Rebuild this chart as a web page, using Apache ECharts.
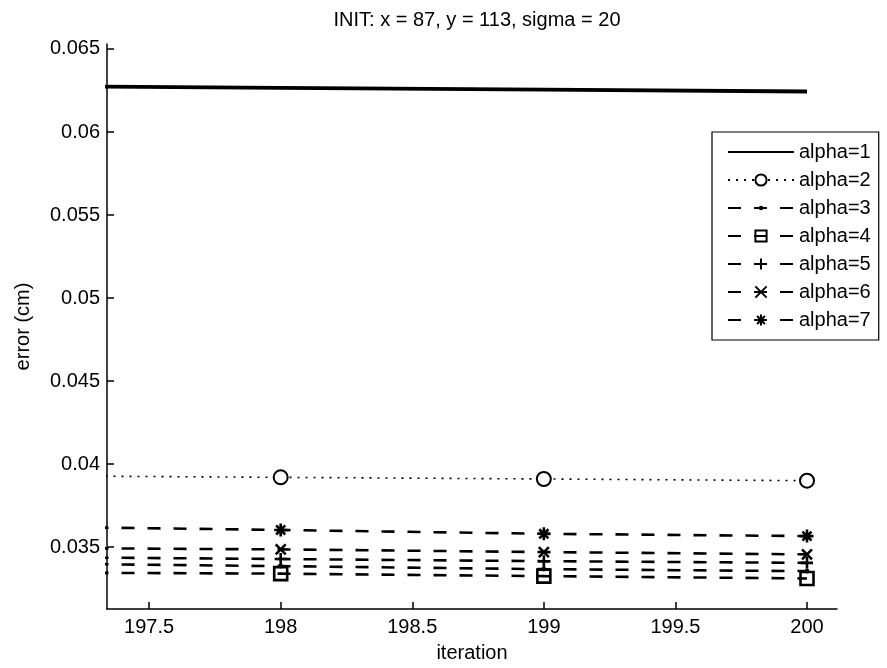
<!DOCTYPE html>
<html>
<head>
<meta charset="utf-8">
<script src="https://cdn.jsdelivr.net/npm/echarts@6/dist/echarts.min.js"></script>
<style>html,body{margin:0;padding:0;background:#fff}#c{width:887px;height:668px}</style>
</head>
<body>
<div id="c"></div>
<script>
const titleText = 'INIT: x = 87, y = 113, sigma = 20';
const iterations = [197, 198, 199, 200];
const seriesNames = ['alpha=1', 'alpha=2', 'alpha=3', 'alpha=4', 'alpha=5', 'alpha=6', 'alpha=7'];
const alpha1 = [0.06276, 0.06266, 0.06255, 0.06244];
const alpha2 = [0.0393, 0.0392, 0.0391, 0.0390];
const alpha3 = [0.03402, 0.03385, 0.03367, 0.03355];
const alpha4 = [0.03347, 0.03340, 0.03325, 0.03311];
const alpha5 = [0.03440, 0.03428, 0.03415, 0.03405];
const alpha6 = [0.03495, 0.03486, 0.03470, 0.03456];
const alpha7 = [0.03624, 0.03603, 0.03580, 0.03566];
const xTicks = [197.5, 198, 198.5, 199, 199.5, 200];
const yTicks = [0.035, 0.04, 0.045, 0.05, 0.055, 0.06, 0.065];
const xRange = [197.34, 200.114];
const yRange = [0.03127, 0.0653];

const allValues = [alpha1, alpha2, alpha3, alpha4, alpha5, alpha6, alpha7];
const FONT = 'Liberation Sans, Arial, Helvetica, sans-serif';
const P = {
  hline: 'path://M0,0M10,10M0,5L10,5',
  dot: 'path://M0,0M10,10M5,3A2,2,0,1,1,5,7A2,2,0,1,1,5,3Z',
  plus: 'path://M5,0L5,10M0,5L10,5',
  cross: 'path://M0,0L10,10M10,0L0,10',
  star: 'path://M5,0L5,10M0,5L10,5M1.5,1.5L8.5,8.5M8.5,1.5L1.5,8.5',
  square: 'path://M0,0L10,0L10,10L0,10Z'
};
const dash = [13, 13];
const styles = [
  {symbol: P.hline, size: 14, show: false, line: {width: 3.8, type: 'solid'}, item: {color: 'none', borderColor: '#000', borderWidth: 3.8}},
  {symbol: 'emptyCircle', size: 14, show: true, line: {width: 1.6, type: [2, 6]}, item: {color: '#000', borderColor: '#000', borderWidth: 2.6}},
  {symbol: P.dot, size: 12, show: true, line: {width: 2.6, type: dash}, item: {color: '#000', borderColor: '#000', borderWidth: 0}},
  {symbol: P.square, size: 13, show: true, line: {width: 2.6, type: dash}, item: {color: 'none', borderColor: '#000', borderWidth: 2.6}},
  {symbol: P.plus, size: 12, show: true, line: {width: 2.6, type: dash}, item: {color: 'none', borderColor: '#000', borderWidth: 2.6}},
  {symbol: P.cross, size: 10, show: true, line: {width: 2.6, type: dash}, item: {color: 'none', borderColor: '#000', borderWidth: 2.6}},
  {symbol: P.star, size: 13, show: true, line: {width: 2.6, type: dash}, item: {color: 'none', borderColor: '#000', borderWidth: 2.6}}
];

const series = seriesNames.map((name, i) => ({
  name: name,
  type: 'line',
  data: iterations.map((x, k) => [x, allValues[i][k]]),
  symbol: styles[i].symbol,
  symbolSize: styles[i].size,
  showSymbol: styles[i].show,
  showAllSymbol: true,
  clip: true,
  lineStyle: Object.assign({color: '#000'}, styles[i].line),
  itemStyle: styles[i].item,
  silent: true,
  z: 10 - i
}));

const chart = echarts.init(document.getElementById('c'), null, {renderer: 'canvas'});
chart.setOption({
  animation: false,
  backgroundColor: '#fff',
  textStyle: {fontFamily: FONT, color: '#000'},
  title: {
    text: titleText, left: 472, top: 5, textAlign: 'center',
    textStyle: {fontFamily: FONT, fontSize: 20, fontWeight: 'normal', color: '#000'}
  },
  grid: {left: 107, right: 50, top: 44, bottom: 59, containLabel: false},
  legend: {
    orient: 'vertical', left: 712, top: 132,
    padding: [10, 8, 10, 15],
    itemWidth: 66, itemHeight: 14, itemGap: 8,
    backgroundColor: '#fff', borderColor: '#000', borderWidth: 1.2,
    textStyle: {fontFamily: FONT, fontSize: 20, color: '#000'},
    data: seriesNames
  },
  xAxis: {
    type: 'value', min: xRange[0], max: xRange[1],
    name: 'iteration', nameLocation: 'middle', nameGap: 34,
    nameTextStyle: {fontFamily: FONT, fontSize: 20, color: '#000'},
    axisLine: {show: true, onZero: false, lineStyle: {color: '#000', width: 1.5}},
    axisTick: {show: true, inside: true, length: 7, customValues: xTicks, lineStyle: {color: '#000', width: 1.5}},
    axisLabel: {customValues: xTicks, margin: 8, fontFamily: FONT, fontSize: 20, color: '#000',
      formatter: v => String(v)},
    splitLine: {show: false}
  },
  yAxis: {
    type: 'value', min: yRange[0], max: yRange[1],
    name: 'error (cm)', nameLocation: 'middle', nameGap: 74, nameRotate: 90,
    nameTextStyle: {fontFamily: FONT, fontSize: 20, color: '#000'},
    axisLine: {show: true, onZero: false, lineStyle: {color: '#000', width: 1.5}},
    axisTick: {show: true, inside: true, length: 7, customValues: yTicks, lineStyle: {color: '#000', width: 1.5}},
    axisLabel: {customValues: yTicks, margin: 7, fontFamily: FONT, fontSize: 20, color: '#000',
      formatter: v => String(+v.toFixed(4))},
    splitLine: {show: false}
  },
  series: series
});
</script>
</body>
</html>
